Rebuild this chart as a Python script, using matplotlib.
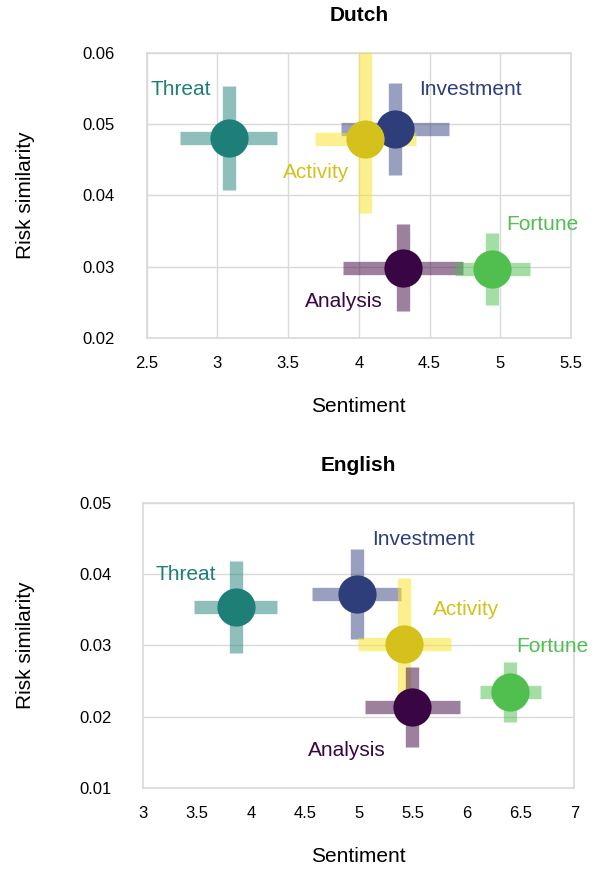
import matplotlib.pyplot as plt
import numpy as np

plt.rcParams['font.family'] = ['Liberation Sans', 'DejaVu Sans']

concepts = ['Threat', 'Investment', 'Activity', 'Analysis', 'Fortune']
dot_colors = ['#1e7f78', '#2e3e7a', '#d4c11b', '#390542', '#50bf50']
bar_colors = ['#1f8179', '#35417f', '#fbe31f', '#3a033f', '#4dbf4d']

# Dutch
nl_sent = [3.08, 4.256, 4.046, 4.313, 4.944]
nl_sent_err = [0.341, 0.381, 0.355, 0.422, 0.266]
nl_risk = [0.0481, 0.0493, 0.0479, 0.0299, 0.0297]
nl_risk_lo = [0.0073, 0.0065, 0.0104, 0.0061, 0.0050]
nl_risk_hi = [0.0073, 0.0065, 0.0150, 0.0061, 0.0050]
nl_label_xy = [(2.53, 0.0549), (4.426, 0.0549), (3.462, 0.0432),
               (3.62, 0.0252), (5.043, 0.0359)]

# English
en_sent = [3.858, 4.981, 5.422, 5.497, 6.406]
en_sent_err = [0.385, 0.412, 0.43, 0.439, 0.284]
en_risk = [0.0354, 0.0372, 0.0302, 0.0214, 0.0235]
en_risk_lo = [0.0064, 0.0063, 0.0093, 0.0056, 0.0042]
en_risk_hi = [0.0064, 0.0063, 0.0093, 0.0056, 0.0042]
en_label_xy = [(3.115, 0.0400), (5.12, 0.0449), (5.69, 0.0351),
               (4.527, 0.0153), (6.466, 0.0299)]

nl_xticks = [2.5, 3, 3.5, 4, 4.5, 5, 5.5]
nl_yticks = [0.02, 0.03, 0.04, 0.05, 0.06]
en_xticks = [3, 3.5, 4, 4.5, 5, 5.5, 6, 6.5, 7]
en_xgrid = [4, 5, 6]
en_yticks = [0.01, 0.02, 0.03, 0.04, 0.05]

fig = plt.figure(figsize=(5.98, 8.69), dpi=100)
ax1 = fig.add_axes([0.2453, 0.6107, 0.7095, 0.3287])
ax2 = fig.add_axes([0.2396, 0.0929, 0.7207, 0.3286])

grid_col = '#d9d9d9'


def draw(ax, title, sx, sxe, ry, rlo, rhi, label_xy):
    # error crosses first, then the dots on top of all of them
    for i, name in enumerate(concepts):
        ax.errorbar(sx[i], ry[i], xerr=sxe[i], yerr=[[rlo[i]], [rhi[i]]],
                    fmt='none', ecolor=bar_colors[i], elinewidth=9.6,
                    alpha=0.5, capsize=0, zorder=3)
    for i, name in enumerate(concepts):
        ax.plot(sx[i], ry[i], 'o', ms=27.5, color=dot_colors[i],
                mec='none', zorder=4)
        ax.text(label_xy[i][0], label_xy[i][1], name, color=dot_colors[i],
                fontsize=15, ha='left', va='center', zorder=10)
    for s in ax.spines.values():
        s.set_color(grid_col)
        s.set_linewidth(1.2)
    ax.tick_params(length=0, labelsize=12)
    ax.tick_params(axis='x', pad=13)
    ax.tick_params(axis='y', pad=23)
    ax.set_axisbelow(True)
    ax.text(0.5, 1.13, title, transform=ax.transAxes, ha='center',
            va='center', fontsize=15, fontweight='bold')
    ax.set_xlabel('Sentiment', fontsize=15)
    ax.set_ylabel('Risk similarity', fontsize=15)
    ax.xaxis.set_label_coords(0.5, -0.2405)
    ax.xaxis.label.set_va('center')
    ax.yaxis.label.set_va('center')


draw(ax1, 'Dutch', nl_sent, nl_sent_err, nl_risk, nl_risk_lo, nl_risk_hi,
     nl_label_xy)
ax1.set_xlim(2.5, 5.5)
ax1.set_ylim(0.02, 0.06)
ax1.set_xticks(nl_xticks, [f'{t:g}' for t in nl_xticks])
ax1.set_yticks(nl_yticks, [f'{t:.2f}' for t in nl_yticks])
ax1.grid(True, color=grid_col, lw=1.0)
ax1.yaxis.set_label_coords(-0.285, 0.5)

draw(ax2, 'English', en_sent, en_sent_err, en_risk, en_risk_lo, en_risk_hi,
     en_label_xy)
ax2.set_xlim(3, 7)
ax2.set_ylim(0.01, 0.05)
ax2.set_xticks(en_xticks, [f'{t:g}' for t in en_xticks])
ax2.set_xticks(en_xgrid, minor=True)
ax2.tick_params(which='minor', length=0)
ax2.set_yticks(en_yticks, [f'{t:.2f}' for t in en_yticks])
ax2.grid(True, axis='y', color=grid_col, lw=1.0)
ax2.grid(True, axis='x', which='minor', color=grid_col, lw=1.0)
ax2.yaxis.set_label_coords(-0.273, 0.5)
ax2.xaxis.set_label_coords(0.5, -0.2395)

fig.savefig('out.png', dpi=100)
